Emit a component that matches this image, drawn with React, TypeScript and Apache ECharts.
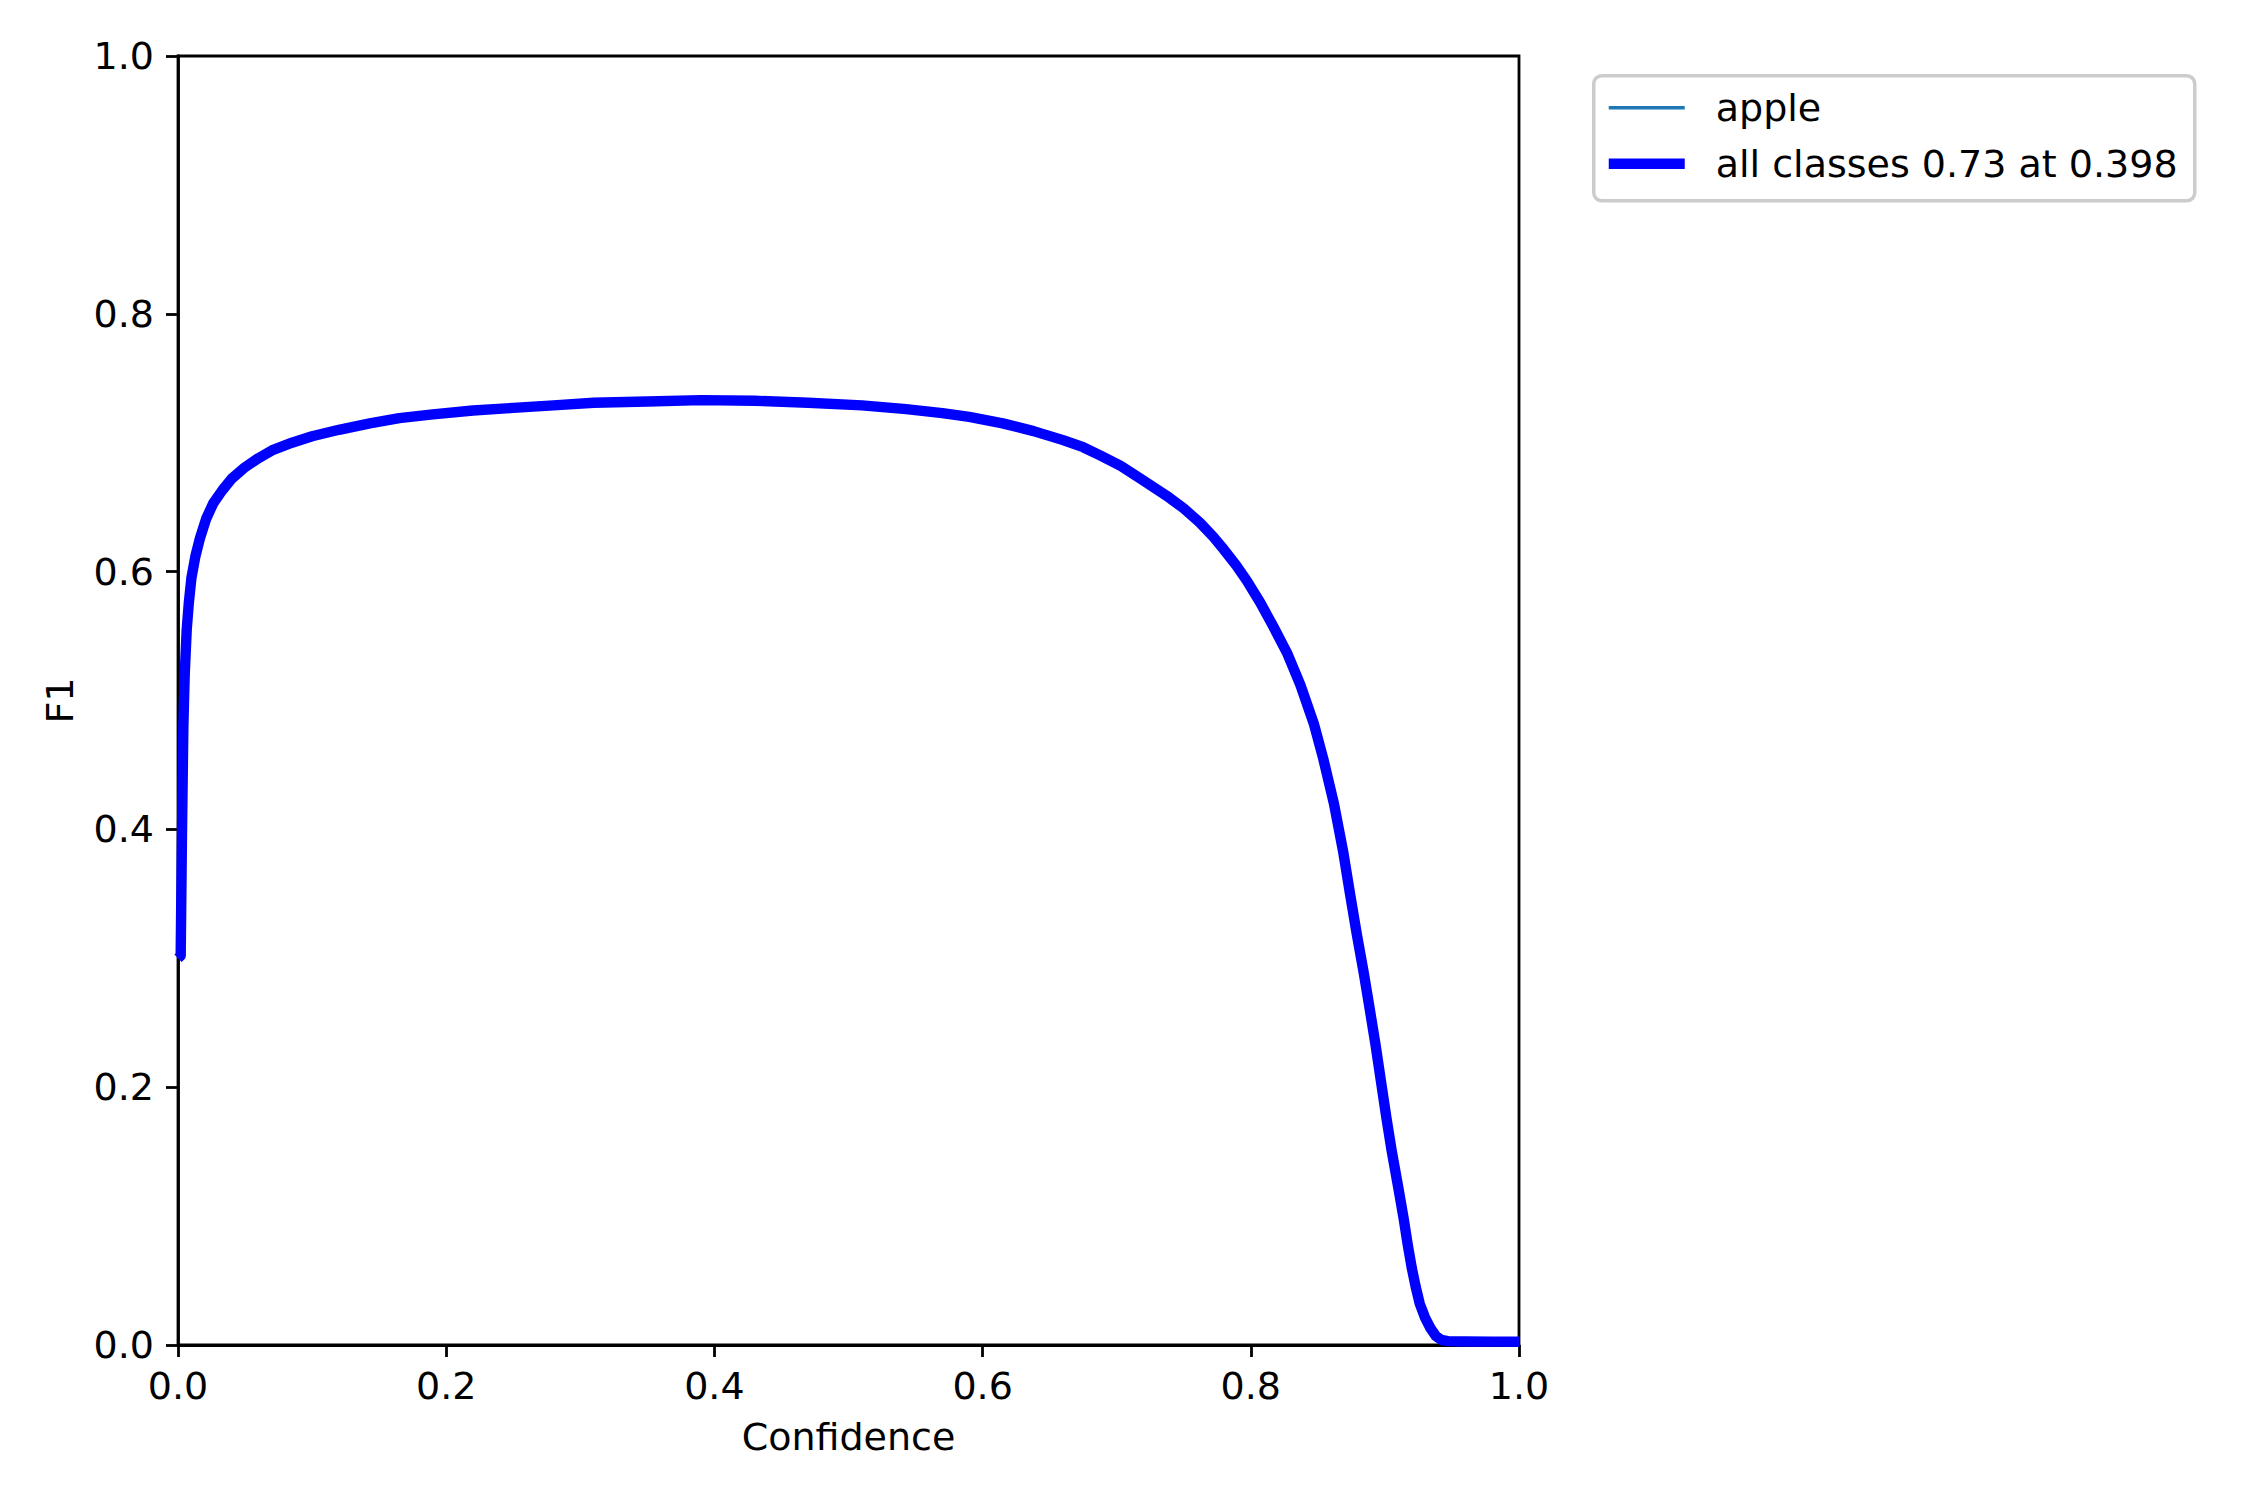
import React, { useEffect, useRef } from "react";
import * as echarts from "echarts";

// Confidence thresholds (x)
const confidence = [
  0, 0.002, 0.003, 0.004, 0.005, 0.0065, 0.008, 0.01, 0.013, 0.0164,
  0.021, 0.0263, 0.033, 0.04, 0.05, 0.06, 0.07, 0.085, 0.1, 0.12,
  0.143, 0.165, 0.19, 0.22, 0.25, 0.28, 0.31, 0.35, 0.39, 0.43,
  0.47, 0.51, 0.543, 0.57, 0.59, 0.615, 0.638, 0.66, 0.675, 0.688,
  0.703, 0.718, 0.737, 0.75, 0.762, 0.772, 0.78, 0.789, 0.797, 0.807,
  0.817, 0.827, 0.837, 0.847, 0.854, 0.862, 0.869, 0.874, 0.879, 0.884,
  0.888, 0.893, 0.897, 0.901, 0.905, 0.91, 0.914, 0.917, 0.92, 0.923,
  0.926, 0.93, 0.934, 0.938, 0.942, 0.947, 0.96, 0.98, 1.0,
];

// F1 for class "apple"
const appleF1 = [
  0.3, 0.302, 0.4, 0.48, 0.52, 0.555, 0.575, 0.595, 0.612, 0.626,
  0.641, 0.653, 0.663, 0.672, 0.681, 0.688, 0.694, 0.7, 0.705, 0.71,
  0.715, 0.719, 0.722, 0.725, 0.727, 0.729, 0.731, 0.732, 0.733, 0.7325,
  0.731, 0.729, 0.726, 0.723, 0.72, 0.715, 0.709, 0.702, 0.6965, 0.69,
  0.682, 0.672, 0.659, 0.649, 0.638, 0.627, 0.617, 0.605, 0.593, 0.576,
  0.557, 0.537, 0.512, 0.482, 0.455, 0.42, 0.382, 0.35, 0.319, 0.29,
  0.265, 0.233, 0.205, 0.177, 0.151, 0.122, 0.098, 0.078, 0.06, 0.045,
  0.032, 0.021, 0.013, 0.007, 0.004, 0.003, 0.0027, 0.0026, 0.0025,
];

// Mean over all classes (only one class: apple)
const allClassesF1 = appleF1.slice();

const seriesNames = ["apple", "all classes 0.73 at 0.398"];
const xTicks = [0, 0.2, 0.4, 0.6, 0.8, 1.0];
const yTicks = [0, 0.2, 0.4, 0.6, 0.8, 1.0];

const FONT = "DejaVu Sans";
const FS = 38;

export default function App() {
  const ref = useRef<HTMLDivElement>(null);

  useEffect(() => {
    if (!ref.current) return;
    const chart = echarts.init(ref.current, undefined, { renderer: "svg" });

    const pairs = (ys: number[]) => confidence.map((c, i) => [c, ys[i]]);

    const axisCommon = {
      type: "value" as const,
      min: 0,
      max: 1,
      interval: 0.2,
      splitLine: { show: false },
      axisLine: { show: true, onZero: false, lineStyle: { color: "#000", width: 2.8 } },
      axisTick: { show: true, inside: false, length: 12, lineStyle: { color: "#000", width: 2.8 } },
      nameTextStyle: { fontFamily: FONT, fontSize: FS, color: "#000" },
    };

    chart.setOption({
      animation: false,
      backgroundColor: "#fff",
      grid: {
        left: 178,
        top: 56,
        width: 1341,
        height: 1289,
        show: true,
        borderColor: "#000",
        borderWidth: 2.8,
        backgroundColor: "transparent",
      },
      xAxis: {
        ...axisCommon,
        name: "Confidence",
        nameLocation: "middle",
        nameGap: 73,
        axisLabel: {
          fontFamily: FONT,
          fontSize: FS,
          color: "#000",
          margin: 22,
          formatter: (v: number) => (xTicks.some((t) => Math.abs(t - v) < 1e-9) ? v.toFixed(1) : ""),
        },
      },
      yAxis: {
        ...axisCommon,
        name: "F1",
        nameLocation: "middle",
        nameGap: 99,
        axisLabel: {
          fontFamily: FONT,
          fontSize: FS,
          color: "#000",
          margin: 24,
          formatter: (v: number) => (yTicks.some((t) => Math.abs(t - v) < 1e-9) ? v.toFixed(1) : ""),
        },
      },
      series: [
        {
          name: seriesNames[0],
          type: "line",
          data: pairs(appleF1),
          showSymbol: false,
          symbol: "none",
          smooth: false,
          clip: true,
          lineStyle: { color: "#1f77b4", width: 3.5, cap: "butt", join: "round" },
          z: 2,
        },
        {
          name: seriesNames[1],
          type: "line",
          data: pairs(allClassesF1),
          showSymbol: false,
          symbol: "none",
          smooth: false,
          clip: true,
          lineStyle: { color: "#0000ff", width: 10.4, cap: "butt", join: "round" },
          z: 3,
        },
      ],
      graphic: [
        {
          type: "group",
          left: 1592,
          top: 74,
          children: [
            {
              type: "rect",
              shape: { x: 0, y: 0, width: 601, height: 125, r: 8 },
              style: { fill: "rgba(255,255,255,0.8)", stroke: "#cccccc", lineWidth: 3.5 },
            },
            {
              type: "line",
              shape: { x1: 15, y1: 32, x2: 91, y2: 32 },
              style: { stroke: "#1f77b4", lineWidth: 3.5 },
            },
            {
              type: "line",
              shape: { x1: 15, y1: 88, x2: 91, y2: 88 },
              style: { stroke: "#0000ff", lineWidth: 10.4 },
            },
            {
              type: "text",
              x: 122,
              y: 32,
              style: {
                text: seriesNames[0],
                fontFamily: FONT,
                fontSize: FS,
                fill: "#000",
                verticalAlign: "middle",
                align: "left",
              },
            },
            {
              type: "text",
              x: 122,
              y: 88,
              style: {
                text: seriesNames[1],
                fontFamily: FONT,
                fontSize: FS,
                fill: "#000",
                verticalAlign: "middle",
                align: "left",
              },
            },
          ],
        },
      ],
    });

    return () => {
      chart.dispose();
    };
  }, []);

  return (
    <div
      ref={ref}
      style={{ position: "fixed", left: 0, top: 0, width: 2250, height: 1500, background: "#fff" }}
    />
  );
}
